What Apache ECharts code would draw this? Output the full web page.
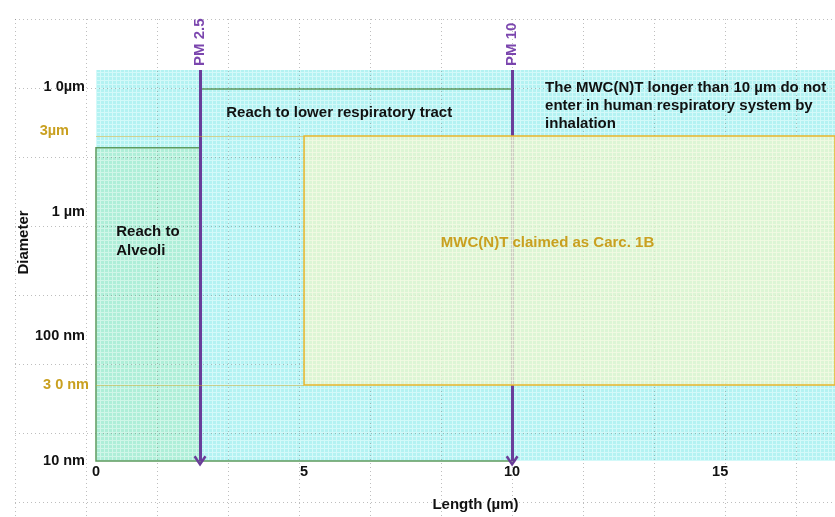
<!DOCTYPE html>
<html>
<head>
<meta charset="utf-8">
<script src="https://cdn.jsdelivr.net/npm/echarts@6.0.0/dist/echarts.min.js"></script>
<style>
  html, body { margin: 0; padding: 0; background: #fff; }
  #main { width: 835px; height: 517px; }
</style>
</head>
<body>
<div id="main"></div>
<script>
// axes extent
const lengthMax = 17.76;
const diameterMin = 0.01;
const diameterMax = 13.8;

// y tick labels (log axis, µm)
const diameterTickValues = [0.01, 0.1, 1, 10];
const diameterTickLabels = ['10 nm', '100 nm', '1 µm', '1 0µm'];

// respiratory zones
const zoneNames = ['Reach to lower respiratory tract', 'Reach to\nAlveoli'];
const zoneLength = [[2.5, 10], [0, 2.5]];
const zoneDiameter = [[0.01, 9.7], [0.01, 3.27]];

// carcinogenic fibre window
const carcName = 'MWC(N)T claimed as Carc. 1B';
const carcLength = [5, lengthMax];
const carcDiameter = [0.0408, 4.08];

// limit lines on the diameter axis
const limitLabels = ['3µm', '3 0 nm'];
const limitDiameter = [4.08, 0.0408];

// PM cut-offs
const pmNames = ['PM 2.5', 'PM 10'];
const pmLength = [2.5, 10];

const noteText = 'The MWC(N)T longer than 10 µm do not\nenter in human respiratory system by\ninhalation';

function paper(base, line) {
  const c = document.createElement('canvas');
  c.width = 4; c.height = 4;
  const ctx = c.getContext('2d');
  ctx.fillStyle = base;
  ctx.fillRect(0, 0, 4, 4);
  ctx.fillStyle = line;
  ctx.fillRect(0, 0, 4, 1);
  ctx.fillRect(0, 0, 1, 4);
  return { image: c, repeat: 'repeat' };
}

const font = 'Liberation Sans';
const boldText = { fontFamily: font, fontWeight: 'bold', fontSize: 15, color: '#111' };
const tickText = Object.assign({}, boldText, { fontSize: 14.5 });
const gold = '#c9a020';
const purple = '#6a3d9a';
const dotted = { show: true, lineStyle: { color: 'rgba(110,110,110,0.45)', type: [1, 3], width: 1 } };

const chart = echarts.init(document.getElementById('main'));

const option = {
  backgroundColor: '#fff',
  animation: false,
  grid: [
    { left: 96, right: 0, top: 70, bottom: 56 },
    { left: 15, right: 0, top: 19, bottom: 0 }
  ],
  xAxis: [
    {
      type: 'value', gridIndex: 0, min: 0, max: lengthMax, interval: 5,
      name: 'Length (µm)', nameLocation: 'middle', nameGap: 36, nameMoveOverlap: false,
      nameTextStyle: Object.assign({}, boldText, { padding: [0, 0, 0, 20] }),
      axisLine: { show: false }, axisTick: { show: false }, splitLine: { show: false },
      axisLabel: Object.assign({}, tickText, { margin: 3, showMaxLabel: false })
    },
    {
      type: 'value', gridIndex: 1, min: 0, max: 11.549, interval: 1, z: 2,
      axisLine: { show: false }, axisTick: { show: false }, axisLabel: { show: false },
      splitLine: dotted
    }
  ],
  yAxis: [
    {
      type: 'log', gridIndex: 0, logBase: 10, min: diameterMin, max: diameterMax,
      name: 'Diameter', nameLocation: 'middle', nameGap: 65, nameMoveOverlap: false,
      nameTextStyle: Object.assign({}, boldText, { padding: [0, 0, 0, 46] }),
      axisLine: { show: false }, axisTick: { show: false }, splitLine: { show: false },
      axisLabel: Object.assign({}, tickText, {
        margin: 11, showMaxLabel: false,
        formatter: v => {
          const i = diameterTickValues.findIndex(t => Math.abs(Math.log10(t) - Math.log10(v)) < 1e-6);
          return i >= 0 ? diameterTickLabels[i] : '';
        }
      })
    },
    {
      type: 'value', gridIndex: 1, min: 0, max: 7.217, interval: 1, inverse: true, z: 2,
      axisLine: { show: false }, axisTick: { show: false }, axisLabel: { show: false },
      splitLine: dotted
    }
  ],
  series: [
    {
      // background paper and respiratory zones
      type: 'line', xAxisIndex: 0, yAxisIndex: 0, data: [],
      markArea: {
        silent: true, z: 1,
        data: [
          [
            { coord: [0, diameterMin], itemStyle: { color: paper('#b3f2f2', '#d3f9f9') }, label: { show: false } },
            { coord: [lengthMax, diameterMax] }
          ],
          [
            {
              coord: [zoneLength[0][0], zoneDiameter[0][0]], name: zoneNames[0],
              itemStyle: { color: 'rgba(0,0,0,0)', borderColor: '#5b9a5e', borderWidth: 1.5 },
              label: Object.assign({}, boldText, { show: true, position: 'insideTopLeft', offset: [22, 12] })
            },
            { coord: [zoneLength[0][1], zoneDiameter[0][1]] }
          ],
          [
            {
              coord: [zoneLength[1][0], zoneDiameter[1][0]], name: zoneNames[1],
              itemStyle: { color: paper('#aeeed8', '#d0f6e8'), borderColor: '#5b9a5e', borderWidth: 1.5 },
              label: Object.assign({}, boldText, { show: true, position: 'insideTopLeft', offset: [16, 70], lineHeight: 19 })
            },
            { coord: [zoneLength[1][1], zoneDiameter[1][1]] }
          ]
        ]
      }
    },
    {
      // PM cut-off arrows and limit lines
      type: 'line', xAxisIndex: 0, yAxisIndex: 0, data: [],
      markLine: {
        silent: true, z: 3,
        symbol: ['none', 'none'],
        data: pmLength.map(x => [
          { coord: [x, diameterMax], symbol: 'none', lineStyle: { color: purple, width: 3, type: 'solid' }, label: { show: false } },
          { coord: [x, diameterMin], symbol: 'path://M0,9 L6,0 L12,9 L10,10.5 L6,4 L2,10.5 Z', symbolSize: [13, 11] }
        ]).concat(limitDiameter.map((y, i) => [
          {
            coord: [0, y], lineStyle: { color: 'rgba(210,170,40,0.5)', width: 1, type: 'solid' },
            label: Object.assign({}, tickText, {
              show: true, position: 'start', color: gold, formatter: limitLabels[i],
              offset: i === 0 ? [-22, -5] : [-2, 0]
            })
          },
          { coord: [carcLength[0], y] }
        ]))
      }
    },
    {
      // PM labels
      type: 'scatter', xAxisIndex: 0, yAxisIndex: 0, z: 4, symbolSize: 2,
      itemStyle: { color: 'rgba(0,0,0,0)' },
      data: pmLength.map(x => [x, diameterMax]),
      label: Object.assign({}, boldText, {
        show: true, color: '#5a189a', position: 'top', distance: 3, rotate: 90,
        align: 'left', verticalAlign: 'middle',
        formatter: p => pmNames[p.dataIndex]
      })
    },
    {
      // carcinogenic window over everything, plus note
      type: 'line', xAxisIndex: 0, yAxisIndex: 0, data: [],
      markArea: {
        silent: true, z: 5,
        data: [
          [
            {
              coord: [carcLength[0], carcDiameter[0]], name: carcName,
              itemStyle: { color: paper('rgba(232,246,205,0.78)', 'rgba(244,250,228,0.7)'), borderColor: '#e8b52a', borderWidth: 1.5 },
              label: Object.assign({}, boldText, { show: true, position: 'inside', color: gold, offset: [-22, -18] })
            },
            { coord: [carcLength[1], carcDiameter[1]] }
          ],
          [
            {
              coord: [pmLength[1], carcDiameter[1]], name: noteText,
              itemStyle: { color: 'rgba(0,0,0,0)' },
              label: Object.assign({}, boldText, { show: true, position: 'insideTopLeft', offset: [28, 4], lineHeight: 18 })
            },
            { coord: [lengthMax, diameterMax] }
          ]
        ]
      }
    }
  ]
};

chart.setOption(option);
</script>
</body>
</html>
